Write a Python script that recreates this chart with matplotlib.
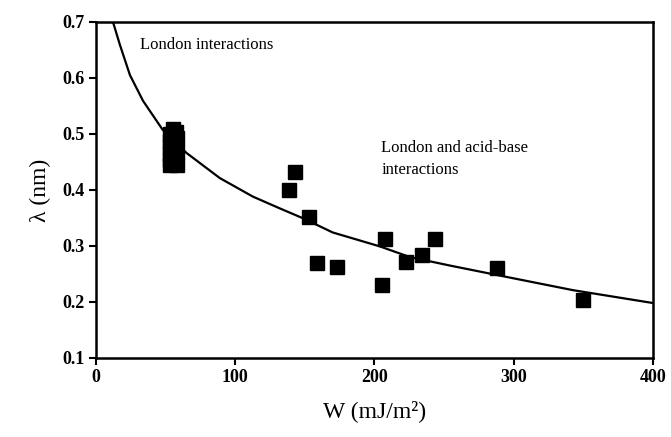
import matplotlib
matplotlib.use("Agg")
import matplotlib.pyplot as plt

# Data
cluster_W = [53.0, 58.0, 55.0, 53.5, 57.5, 55.5, 53.0, 58.0, 55.0, 53.5, 57.5, 55.5, 53.0, 58.0, 55.5, 53.5, 57.5, 55.5]
cluster_lam = [0.445, 0.445, 0.449, 0.453, 0.456, 0.460, 0.464, 0.468, 0.472, 0.476, 0.480, 0.484,
               0.488, 0.492, 0.496, 0.500, 0.504, 0.508]
points_W = [143, 139, 153, 158.5, 173, 205.5, 207.5, 223, 234, 243.5, 288, 350]
points_lam = [0.432, 0.400, 0.352, 0.270, 0.263, 0.230, 0.312, 0.271, 0.284, 0.312, 0.260, 0.203]
curve_W = [12.2, 17.2, 24.4, 33.8, 48, 65, 89, 112.7, 132, 149, 170, 204, 225.5, 254, 288, 342.5, 400]
curve_lam = [0.70, 0.659, 0.605, 0.559, 0.507, 0.466, 0.421, 0.388, 0.367, 0.349, 0.324, 0.299,
             0.280, 0.265, 0.248, 0.221, 0.198]
xticks = [0, 100, 200, 300, 400]
yticks = [0.1, 0.2, 0.3, 0.4, 0.5, 0.6, 0.7]

plt.rcParams['font.family'] = ['Liberation Serif', 'DejaVu Serif']

fig = plt.figure(figsize=(6.71, 4.37), dpi=100)
ax = fig.add_axes([0.143, 0.181, 0.830, 0.769])

ax.plot(curve_W, curve_lam, color='black', lw=1.6, zorder=2, solid_joinstyle='round')
ax.plot(cluster_W, cluster_lam, 's', color='black', ms=10, zorder=3)
ax.plot(points_W, points_lam, 's', color='black', ms=10, zorder=3)

ax.set_xlim(0, 400)
ax.set_ylim(0.1, 0.7)
ax.set_xticks(xticks)
ax.set_xticklabels([str(v) for v in xticks])
ax.set_yticks(yticks)
ax.set_yticklabels([f"{v:.1f}" for v in yticks])
for s in ax.spines.values():
    s.set_linewidth(1.8)
ax.tick_params(direction='out', length=5, width=1.5, labelsize=13, pad=3)
for lab in ax.get_xticklabels() + ax.get_yticklabels():
    lab.set_fontweight('bold')

ax.set_xlabel("W (mJ/m²)", fontsize=17, labelpad=10)
ax.set_ylabel("λ (nm)", fontsize=17, labelpad=8)

ax.text(31.5, 0.659, "London interactions", fontsize=12, va='center', ha='left')
ax.text(205, 0.455, "London and acid-base\ninteractions", fontsize=12, va='center', ha='left',
        linespacing=1.5)

fig.savefig("out.png", dpi=100)
